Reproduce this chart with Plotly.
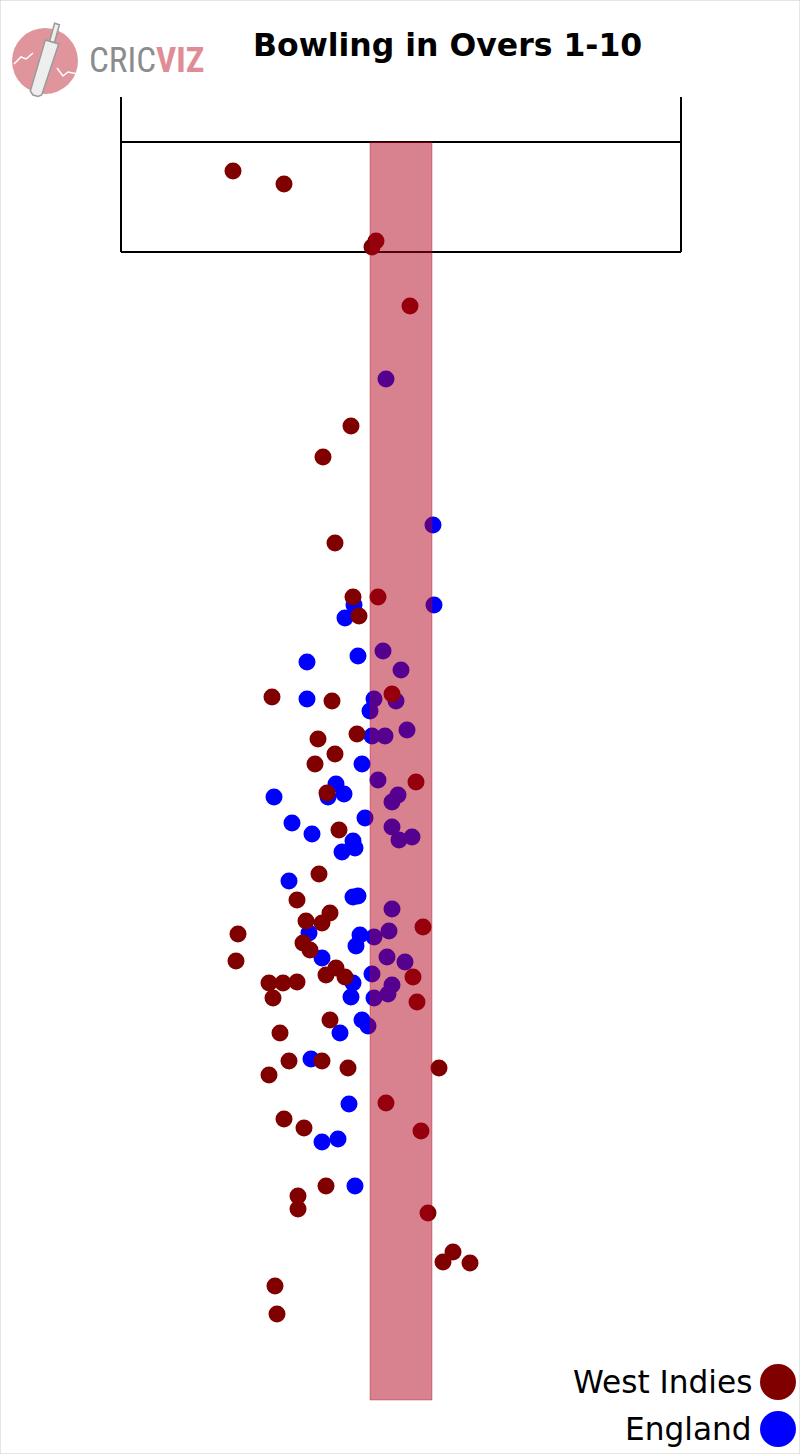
import plotly.graph_objects as go

# Pitch units: line (across) and length (down the pitch), 1 unit = 10 px of the original image
wi_line = [-16.8, -11.7, -2.5, -2.9, 0.9, -5.0, -7.8, -6.6, -4.8, -2.3, -4.2, -12.9, -6.9, -0.9,
           -4.4, -8.3, -6.6, -8.6, 1.5, -7.4, -6.2, -8.2, -10.4, -7.1, -9.5, -7.9, -16.3, 2.2,
           -9.8, -9.1, -16.5, -6.5, -7.5, -5.6, 1.2, -13.2, -11.8, -10.4, -12.8, 1.6, -7.1, -12.1,
           -11.2, -7.9, -5.3, -13.2, 3.8, -1.5, -11.7, -9.7, 2.0, -7.5, -10.3, -10.3, 2.7, 5.2,
           4.2, 6.9, -12.6, -12.4]
wi_length = [-8.1, -6.8, -1.1, -0.5, 5.4, 17.4, 20.5, 29.1, 34.5, 34.5, 36.4, 44.5, 44.9, 44.2,
             48.2, 48.7, 50.2, 51.2, 53.0, 54.1, 57.8, 62.2, 64.8, 66.1, 66.9, 67.1, 68.2, 67.5,
             69.1, 69.8, 70.9, 71.6, 72.3, 72.5, 72.5, 73.1, 73.1, 73.0, 74.6, 75.0, 76.8, 78.1,
             80.9, 80.9, 81.6, 82.3, 81.6, 85.1, 86.7, 87.6, 87.9, 93.4, 94.4, 95.7, 96.1, 100.0,
             101.0, 101.1, 103.4, 106.2]

eng_line = [-1.5, 3.2, -4.7, 3.3, -5.6, -1.8, -4.3, -9.4, 0.0, -9.4, -2.7, -0.5, -3.1, 0.6,
            -2.9, -1.6, -3.9, -2.3, -6.5, -5.7, -7.3, -12.7, -0.3, -0.9, -3.6, -10.9, -0.9, -8.9,
            -0.2, 1.1, -4.8, -4.6, -5.9, -11.2, -4.8, -4.3, -0.9, -9.2, -1.2, -4.1, -2.7, -4.5,
            -7.9, -1.4, 0.4, -2.9, -4.8, -0.9, -1.3, -5.0, -2.7, -3.9, -3.3, -6.1, -9.0, -5.2,
            -7.9, -6.3, -4.6]
eng_length = [12.7, 27.3, 35.3, 35.3, 36.6, 39.9, 40.4, 41.0, 41.8, 44.7, 44.7, 44.9, 45.9, 47.8,
              48.4, 48.4, 51.2, 52.8, 53.2, 54.2, 54.5, 54.5, 54.3, 55.0, 56.6, 57.1, 57.5, 58.2,
              58.8, 58.5, 58.9, 59.6, 60.0, 62.9, 64.5, 64.4, 65.7, 68.1, 67.9, 68.3, 68.5, 69.4,
              70.6, 70.5, 71.0, 72.2, 73.1, 73.3, 74.2, 74.5, 74.6, 76.8, 77.4, 78.1, 80.7, 85.2,
              89.0, 88.7, 93.4]

teams = ["West Indies", "England"]
team_colors = ["#800000", "#0000ff"]

stump_half = 3.1
crease_half = 28.0
popping = -11.0
bowling = 0.0
return_top = -15.5
zone_end = 114.8

W, H = 800, 1454


def px(x):
    return x / W


def py(y):
    return 1 - y / H


fig = go.Figure()
fig.add_trace(go.Scatter(x=eng_line, y=eng_length, mode="markers", name=teams[1],
                         marker=dict(color=team_colors[1], size=17, line=dict(width=0)),
                         showlegend=False, hoverinfo="skip"))
fig.add_trace(go.Scatter(x=wi_line, y=wi_length, mode="markers", name=teams[0],
                         marker=dict(color=team_colors[0], size=17, line=dict(width=0)),
                         showlegend=False, hoverinfo="skip"))

shapes = []
# crease box
for xv in (-crease_half, crease_half):
    shapes.append(dict(type="line", xref="x", yref="y", x0=xv, x1=xv, y0=return_top, y1=bowling,
                       line=dict(color="black", width=2), layer="below"))
for yv in (popping, bowling):
    shapes.append(dict(type="line", xref="x", yref="y", x0=-crease_half, x1=crease_half, y0=yv, y1=yv,
                       line=dict(color="black", width=2), layer="below"))
# stumps zone
shapes.append(dict(type="rect", xref="x", yref="y", x0=-stump_half, x1=stump_half, y0=popping, y1=zone_end,
                   fillcolor="rgba(173,0,25,0.49)", line=dict(color="rgba(173,0,25,0.35)", width=1),
                   layer="above"))

# legend markers
for i, yc in enumerate((1382, 1429)):
    shapes.append(dict(type="circle", xref="paper", yref="paper",
                       x0=px(760), x1=px(796), y0=py(yc + 18), y1=py(yc - 18),
                       fillcolor=team_colors[i], line=dict(width=0)))

# logo
shapes.append(dict(type="circle", xref="paper", yref="paper", x0=px(12), x1=px(78), y0=py(94), y1=py(28),
                   fillcolor="#e0959d", line=dict(width=0)))


def path(pts, close=True):
    s = "M " + " L ".join(f"{px(a):.5f},{py(b):.5f}" for a, b in pts)
    return s + (" Z" if close else "")


shapes.append(dict(type="path", xref="paper", yref="paper",
                   path=path([(14, 64), (21, 57), (26, 59), (33, 53)], close=False),
                   line=dict(color="white", width=1.5)))
shapes.append(dict(type="path", xref="paper", yref="paper",
                   path=path([(57, 68), (63, 76), (68, 72), (78, 74)], close=False),
                   line=dict(color="white", width=1.5)))
shapes.append(dict(type="path", xref="paper", yref="paper",
                   path=path([(59.4, 24.7), (54.6, 23.3), (49.6, 41.3), (54.4, 42.7)]),
                   fillcolor="#eeeeee", line=dict(color="#9a9a9a", width=1.5)))
shapes.append(dict(type="path", xref="paper", yref="paper",
                   path=path([(58.7, 44), (45.3, 40), (30.3, 91), (33, 95), (38, 96.5), (41.7, 95)]),
                   fillcolor="#eeeeee", line=dict(color="#9a9a9a", width=1.5)))
# frame
shapes.append(dict(type="rect", xref="paper", yref="paper", x0=0, x1=1, y0=0, y1=1,
                   line=dict(color="#cccccc", width=1)))

annotations = [
    dict(text="<b>Bowling in Overs 1-10</b>", xref="paper", yref="paper", x=px(447), y=py(45),
         xanchor="center", yanchor="middle", showarrow=False,
         font=dict(family="DejaVu Sans, Verdana", size=31.5, color="black")),
    dict(text="<span style='color:#8c8c8c'>CRIC</span><span style='color:#e08c96'><b>VIZ</b></span>",
         xref="paper", yref="paper", x=px(87), y=py(61), xanchor="left", yanchor="middle",
         showarrow=False, font=dict(family="Liberation Sans Narrow, Roboto Condensed, Roboto", size=35)),
]
for i, yc in enumerate((1382, 1429)):
    annotations.append(dict(text=teams[i], xref="paper", yref="paper", x=px(754), y=py(yc),
                            xanchor="right", yanchor="middle", showarrow=False,
                            font=dict(family="DejaVu Sans, Verdana", size=31.2, color="black")))

fig.update_layout(
    width=W, height=H,
    margin=dict(l=0, r=0, t=0, b=0),
    paper_bgcolor="white", plot_bgcolor="white",
    xaxis=dict(range=[-40.1, 39.9], visible=False, showgrid=False, zeroline=False, fixedrange=True),
    yaxis=dict(range=[120.2, -25.2], visible=False, showgrid=False, zeroline=False, fixedrange=True),
    shapes=shapes, annotations=annotations, showlegend=False,
)

fig.write_html("out.html", config={"displayModeBar": False},
               post_script="document.body.style.margin='0px';document.body.style.overflow='hidden';")
